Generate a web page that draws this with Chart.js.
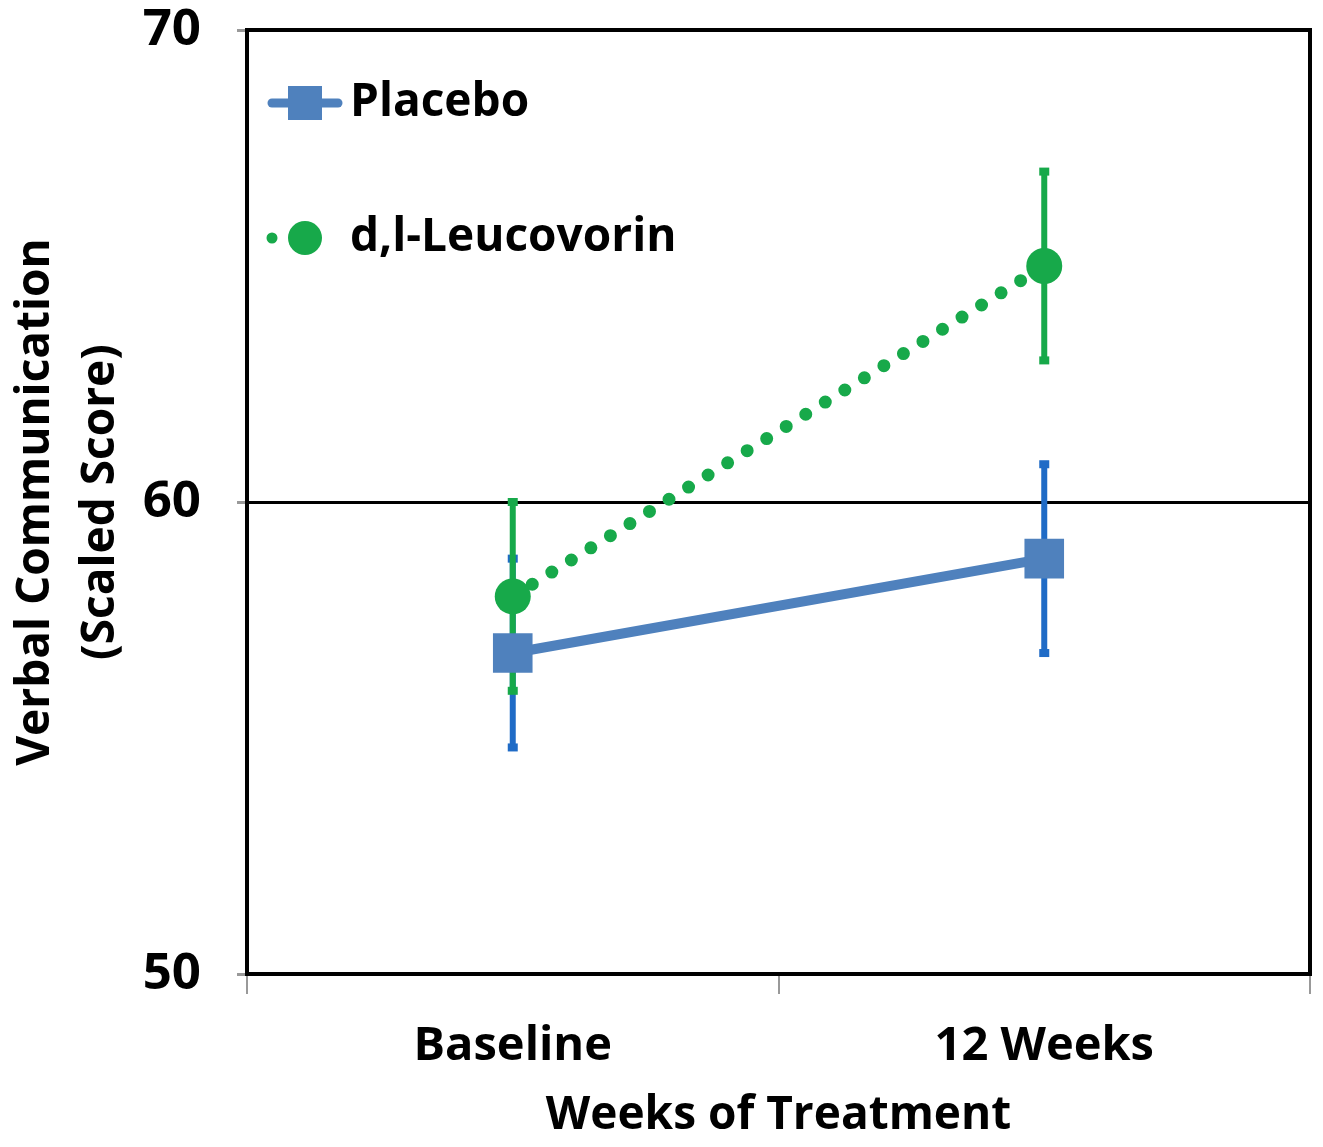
<!DOCTYPE html>
<html>
<head>
<meta charset="utf-8">
<script src="https://cdn.jsdelivr.net/npm/chart.js@4.4.0/dist/chart.umd.min.js"></script>
<style>
  html, body { margin: 0; padding: 0; background: #fff; overflow: hidden; }
  #wrap { width: 1323px; height: 1147px; }
  canvas { display: block; }
</style>
</head>
<body>
<div id="wrap"><canvas id="chart"></canvas></div>
<script>
// values (mean +/- error)
const categories = ["Baseline", "12 Weeks"];
const placeboMean = [56.8, 58.8];
const placeboErr = [2.0, 2.0];
const leucovorinMean = [58.0, 65.0];
const leucovorinErr = [2.0, 2.0];
const yTicks = [50, 60, 70];

const FONT = "'Open Sans', 'DejaVu Sans', sans-serif";

// vertical error bars with small square caps, drawn under the lines
const errorBars = {
  id: "errorBars",
  beforeDatasetsDraw(chart) {
    const ctx = chart.ctx;
    const y = chart.scales.y;
    chart.data.datasets.forEach((ds, i) => {
      if (!ds.errors) return;
      const meta = chart.getDatasetMeta(i);
      meta.data.forEach((pt, j) => {
        const top = y.getPixelForValue(ds.data[j] + ds.errors[j]);
        const bot = y.getPixelForValue(ds.data[j] - ds.errors[j]);
        ctx.save();
        ctx.strokeStyle = ds.errorColor;
        ctx.fillStyle = ds.errorColor;
        ctx.lineWidth = 6;
        ctx.beginPath();
        ctx.moveTo(pt.x, top);
        ctx.lineTo(pt.x, bot);
        ctx.stroke();
        ctx.fillRect(pt.x - 5, top - 4, 10, 8);
        ctx.fillRect(pt.x - 5, bot - 4, 10, 8);
        ctx.restore();
      });
    });
  }
};

// black frame around the plot area
const frame = {
  id: "frame",
  afterDatasetsDraw(chart) {
    const { ctx, chartArea: a } = chart;
    ctx.save();
    ctx.strokeStyle = "#000";
    ctx.lineWidth = 4;
    ctx.strokeRect(a.left, a.top, a.right - a.left, a.bottom - a.top);
    ctx.restore();
  }
};

// legend inside the plot, top left, line + marker + label
const insideLegend = {
  id: "insideLegend",
  afterDraw(chart) {
    const { ctx, chartArea: a } = chart;
    chart.data.datasets.forEach((ds, i) => {
      const cy = a.top + 73 + i * 135;
      const x0 = a.left + 25, x1 = a.left + 91, mx = (x0 + x1) / 2;
      ctx.save();
      ctx.strokeStyle = ds.borderColor;
      ctx.lineWidth = ds.legendLineWidth;
      ctx.lineCap = "round";
      ctx.setLineDash(ds.legendDash);
      ctx.beginPath();
      ctx.moveTo(x0, cy);
      ctx.lineTo(x1, cy);
      ctx.stroke();
      ctx.setLineDash([]);
      ctx.fillStyle = ds.backgroundColor;
      if (ds.pointStyle === "rect") {
        ctx.fillRect(mx - 17, cy - 17, 34, 34);
      } else {
        ctx.beginPath();
        ctx.arc(mx, cy, 17, 0, Math.PI * 2);
        ctx.fill();
      }
      ctx.fillStyle = "#000";
      ctx.font = "bold 46px " + FONT;
      ctx.textBaseline = "middle";
      ctx.fillText(ds.label, a.left + 103, cy);
      ctx.restore();
    });
  }
};

new Chart(document.getElementById("chart"), {
  type: "line",
  data: {
    labels: categories,
    datasets: [
      {
        label: "Placebo",
        data: placeboMean,
        errors: placeboErr,
        errorColor: "#1F6BC6",
        borderColor: "#4F81BD",
        backgroundColor: "#4F81BD",
        borderWidth: 10,
        pointStyle: "rect",
        pointRadius: 28,
        pointHoverRadius: 28,
        pointBorderWidth: 0,
        legendLineWidth: 9,
        legendDash: [],
        clip: false
      },
      {
        label: "d,l-Leucovorin",
        data: leucovorinMean,
        errors: leucovorinErr,
        errorColor: "#17A94A",
        borderColor: "#17A94A",
        backgroundColor: "#17A94A",
        borderWidth: 13,
        borderDash: [0, 23],
        borderCapStyle: "round",
        pointStyle: "circle",
        pointRadius: 18,
        pointHoverRadius: 18,
        pointBorderWidth: 0,
        legendLineWidth: 11,
        legendDash: [0, 33],
        clip: false
      }
    ]
  },
  options: {
    responsive: true,
    maintainAspectRatio: false,
    animation: false,
    layout: { autoPadding: false, padding: { top: 30, right: 13, left: 0, bottom: 0 } },
    plugins: {
      legend: { display: false },
      tooltip: { enabled: false }
    },
    scales: {
      x: {
        offset: true,
        grid: {
          offset: true,
          drawOnChartArea: false,
          tickLength: 20,
          tickColor: "#999",
          lineWidth: 2
        },
        border: { display: false },
        ticks: {
          color: "#000",
          padding: 24,
          font: { family: FONT, size: 47, weight: "bold" }
        },
        title: {
          display: true,
          text: "Weeks of Treatment",
          color: "#000",
          padding: { top: 0, bottom: 4 },
          font: { family: FONT, size: 46, weight: "bold" }
        },
        afterFit(scale) {
          scale.height = 173;
          scale.paddingLeft = 0;
          scale.paddingRight = 0;
        }
      },
      y: {
        min: 50,
        max: 70,
        afterBuildTicks(scale) { scale.ticks = yTicks.map(v => ({ value: v })); },
        grid: {
          color: ctx => (ctx.tick && ctx.tick.value === 60 ? "#000" : "rgba(0,0,0,0)"),
          lineWidth: 3,
          tickLength: 10,
          tickColor: "#999"
        },
        border: { display: false },
        ticks: {
          color: "#000",
          padding: 36,
          font: { family: FONT, size: 51, weight: "bold" }
        },
        title: {
          display: true,
          text: ["Verbal Communication", "(Scaled Score)"],
          color: "#000",
          padding: { top: 3, bottom: 0 },
          font: { family: FONT, size: 46, weight: "bold", lineHeight: 1.42 }
        },
        afterFit(scale) {
          scale.width = 247;
          scale.paddingTop = 0;
          scale.paddingBottom = 0;
        }
      }
    }
  },
  plugins: [errorBars, frame, insideLegend]
});
</script>
</body>
</html>
